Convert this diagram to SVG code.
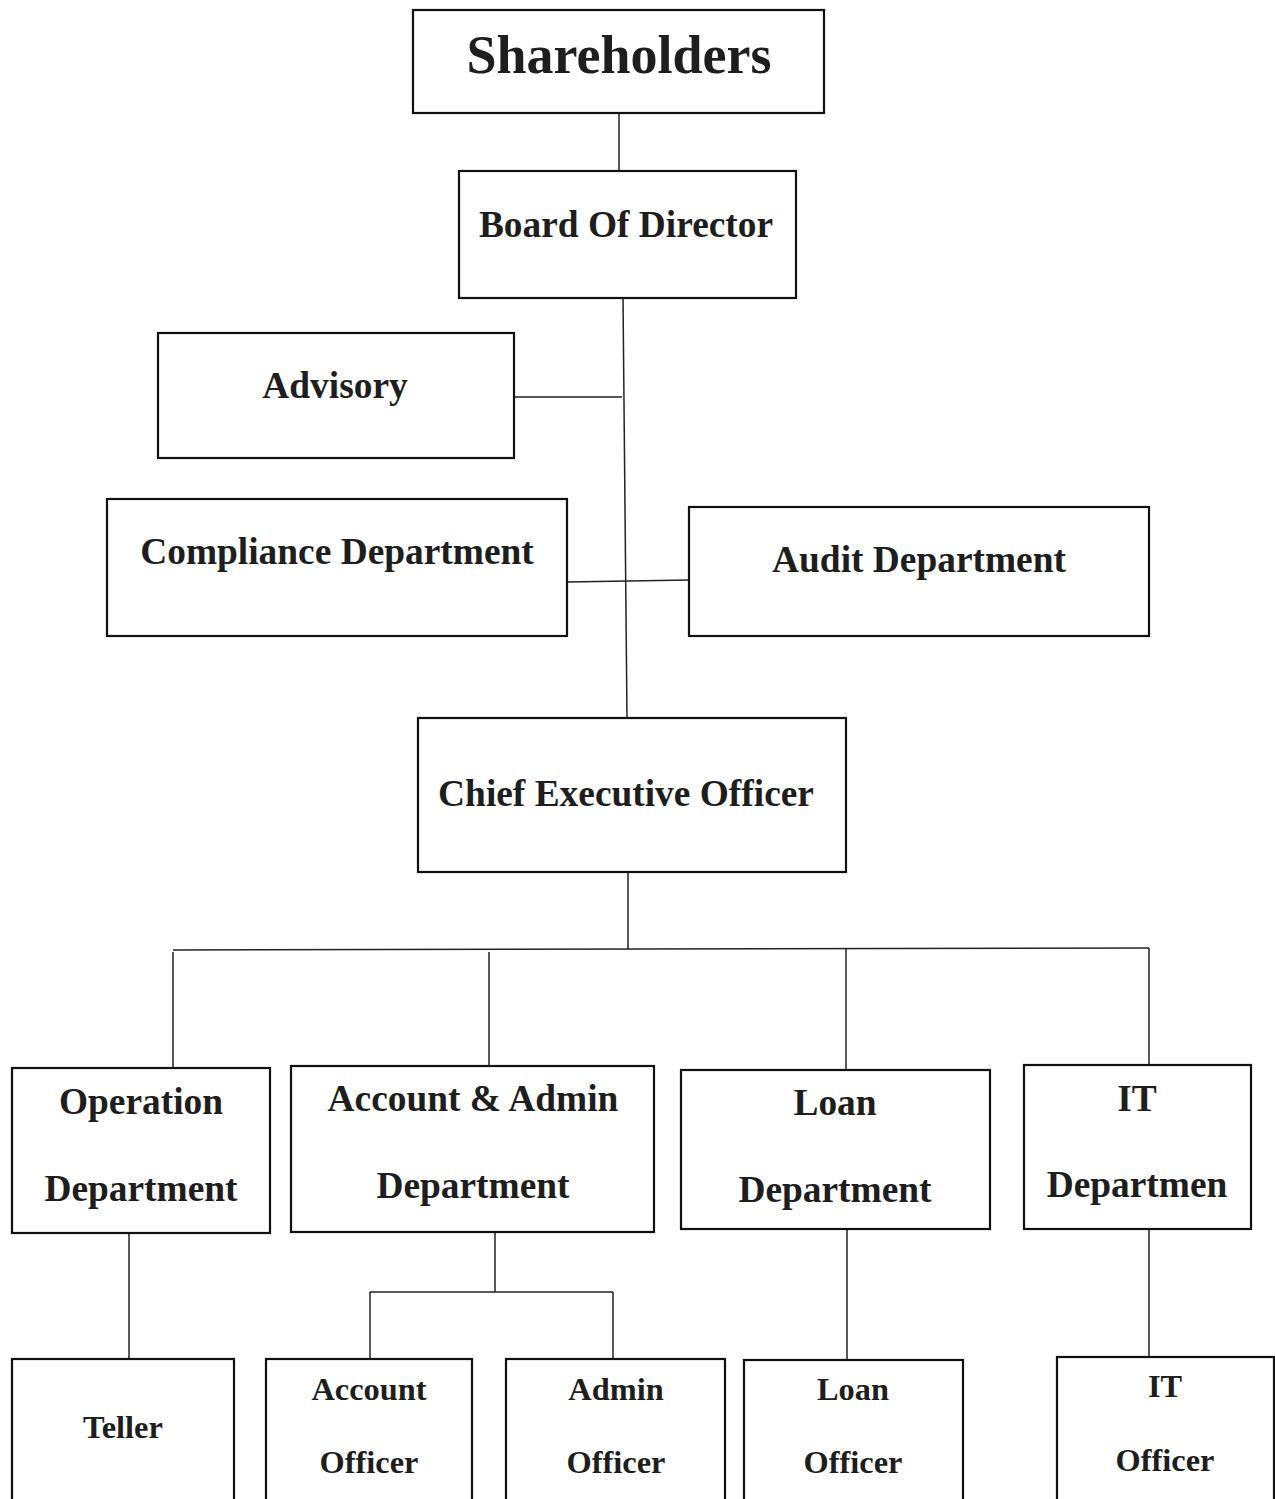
<svg xmlns="http://www.w3.org/2000/svg" width="1275" height="1499" viewBox="0 0 1275 1499">
<style>
.box{fill:#fff;stroke:#111;stroke-width:2.2}
.t{font-family:"Liberation Serif","Times New Roman",serif;font-weight:bold;fill:#1e1e1e;text-anchor:middle}
.m{font-size:37.4px}
.s{font-size:32.4px}
.c{stroke:#222;stroke-width:1.5;fill:none}
</style>
<rect width="1275" height="1499" fill="#fff"/>
<g id="connectors">
<line class="c" x1="619" y1="113" x2="619" y2="171"/>
<line class="c" x1="623" y1="298" x2="627" y2="718"/>
<line class="c" x1="514" y1="397" x2="622" y2="397"/>
<line class="c" x1="567" y1="582" x2="689" y2="580"/>
<line class="c" x1="628" y1="872" x2="628" y2="949"/>
<line class="c" x1="173" y1="950" x2="1149" y2="948"/>
<line class="c" x1="173" y1="952" x2="173" y2="1068"/>
<line class="c" x1="489" y1="952" x2="489" y2="1066"/>
<line class="c" x1="846" y1="949" x2="846" y2="1070"/>
<line class="c" x1="1149" y1="948" x2="1149" y2="1065"/>
<line class="c" x1="129" y1="1233" x2="129" y2="1359"/>
<line class="c" x1="495" y1="1232" x2="495" y2="1292"/>
<line class="c" x1="370" y1="1292" x2="613" y2="1292"/>
<line class="c" x1="370" y1="1292" x2="370" y2="1359"/>
<line class="c" x1="613" y1="1292" x2="613" y2="1359"/>
<line class="c" x1="847" y1="1229" x2="847" y2="1360"/>
<line class="c" x1="1149" y1="1229" x2="1149" y2="1357"/>
</g>
<g id="shareholders"><rect class="box" x="413" y="10" width="411" height="103"/><text class="t" x="619" y="73" font-size="54">Shareholders</text></g>
<g id="board"><rect class="box" x="459" y="171" width="337" height="127"/><text class="t m" x="626" y="237">Board Of Director</text></g>
<g id="advisory"><rect class="box" x="158" y="333" width="356" height="125"/><text class="t m" x="335" y="398">Advisory</text></g>
<g id="compliance"><rect class="box" x="107" y="499" width="460" height="137"/><text class="t m" x="337" y="564">Compliance Department</text></g>
<g id="audit"><rect class="box" x="689" y="507" width="460" height="129"/><text class="t m" x="919" y="572">Audit Department</text></g>
<g id="ceo"><rect class="box" x="418" y="718" width="428" height="154"/><text class="t m" x="626" y="806">Chief Executive Officer</text></g>
<g id="operation"><rect class="box" x="12" y="1068" width="258" height="165"/><text class="t m" x="141" y="1114">Operation</text><text class="t m" x="141" y="1201">Department</text></g>
<g id="account-admin"><rect class="box" x="291" y="1066" width="363" height="166"/><text class="t m" x="473" y="1111">Account &amp; Admin</text><text class="t m" x="473" y="1198">Department</text></g>
<g id="loan"><rect class="box" x="681" y="1070" width="309" height="159"/><text class="t m" x="835" y="1115">Loan</text><text class="t m" x="835" y="1202">Department</text></g>
<g id="it"><rect class="box" x="1024" y="1065" width="227" height="164"/><text class="t m" x="1137" y="1111">IT</text><text class="t m" x="1137" y="1197">Departmen</text></g>
<g id="teller"><rect class="box" x="12" y="1359" width="222" height="160"/><text class="t s" x="123" y="1438">Teller</text></g>
<g id="account-officer"><rect class="box" x="266" y="1359" width="206" height="160"/><text class="t s" x="369" y="1400">Account</text><text class="t s" x="369" y="1473">Officer</text></g>
<g id="admin-officer"><rect class="box" x="506" y="1359" width="219" height="160"/><text class="t s" x="616" y="1400">Admin</text><text class="t s" x="616" y="1473">Officer</text></g>
<g id="loan-officer"><rect class="box" x="744" y="1360" width="219" height="160"/><text class="t s" x="853" y="1400">Loan</text><text class="t s" x="853" y="1473">Officer</text></g>
<g id="it-officer"><rect class="box" x="1057" y="1357" width="217" height="160"/><text class="t s" x="1165" y="1397">IT</text><text class="t s" x="1165" y="1471">Officer</text></g>
</svg>
